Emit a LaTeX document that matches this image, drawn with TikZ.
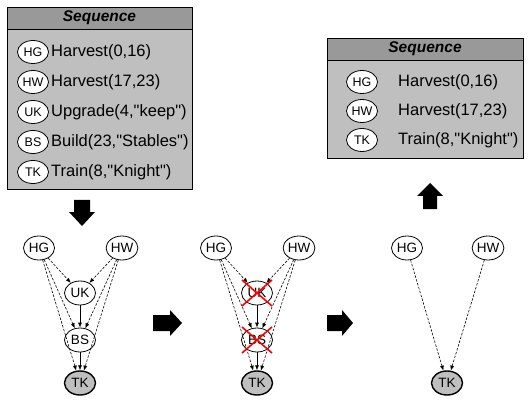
\documentclass[tikz,border=0pt]{standalone}
\usepackage{fontspec}
\setmainfont{Liberation Sans}[Ligatures=TeXOff]
\usetikzlibrary{shapes.geometric,arrows.meta,positioning}
\definecolor{boxgray}{gray}{0.75}
\definecolor{headgray}{gray}{0.6}
\tikzset{
  act/.style={ellipse,draw,line width=0.8pt,fill=white,minimum width=31pt,minimum height=24pt,inner sep=0pt,font=\fontsize{13.5}{13.5}\selectfont},
  goal/.style={act,fill=boxgray,line width=1.4pt},
  tag/.style={ellipse,draw,line width=0.8pt,fill=white,minimum width=31pt,minimum height=23pt,inner sep=0pt,font=\fontsize{12.5}{12.5}\selectfont},
  item/.style={anchor=west,inner sep=0pt,font=\fontsize{16.5}{17}\selectfont},
  head/.style={font=\fontsize{15.5}{16}\selectfont\bfseries\itshape},
  dep/.style={dash pattern=on 2.5pt off 1.5pt,line width=0.6pt,-{Latex[length=5pt,width=4pt]}},
  ord/.style={line width=0.6pt,-{Latex[length=5pt,width=4pt]}},
  cross/.style={red,line width=1.6pt},
}
\begin{document}
\begin{tikzpicture}[x=1pt,y=-1pt]
\useasboundingbox (0,0) rectangle (529,403);
% sequence before
\draw[fill=boxgray,line width=0.8pt] (7,7) rectangle (192,189);
\draw[fill=headgray,line width=0.8pt] (7,7) rectangle (192,29);
\node[head] (seqA) at (99.5,18) {Sequence};
\foreach \id/\txt [count=\i] in {HG/{Harvest(0,16)},HW/{Harvest(17,23)},UK/{Upgrade(4,"keep")},BS/{Build(23,"Stables")},TK/{Train(8,"Knight")}}
{
\node[tag] (a\id) at (33,22+30*\i) {\id};
\node[item] (at\id) at (51,22+30*\i) {\txt};
}
% sequence after
\draw[fill=boxgray,line width=0.8pt] (327,38) rectangle (523,158);
\draw[fill=headgray,line width=0.8pt] (327,38) rectangle (523,60);
\node[head] (seqB) at (425,49) {Sequence};
\foreach \id/\txt/\y in {HG/{Harvest(0,16)}/82,HW/{Harvest(17,23)}/111,TK/{Train(8,"Knight")}/140}
{
\node[tag] (b\id) at (362,\y) {\id};
\node[item] (bt\id) at (398,\y) {\txt};
}
% block arrows
\fill (74,200) -- (90,200) -- (90,212) -- (95,212) -- (82,226) -- (69,212) -- (74,212) -- cycle;
\fill (153,315) -- (170,315) -- (170,310) -- (182,323) -- (170,336) -- (170,331) -- (153,331) -- cycle;
\fill (327,315) -- (342,315) -- (342,310) -- (353,323) -- (342,336) -- (342,331) -- (327,331) -- cycle;
\fill (423,209) -- (437,209) -- (437,196) -- (443,196) -- (430,183) -- (417,196) -- (423,196) -- cycle;
% graph 1 and graph 2
\foreach \g/\x in {p/0,q/177}
{
\node[act] (\g HG) at (39+\x,248) {HG};
\node[act] (\g HW) at (122+\x,248) {HW};
\node[act] (\g UK) at (80+\x,293) {UK};
\node[act] (\g BS) at (80+\x,340) {BS};
\node[goal] (\g TK) at (80+\x,383) {TK};
\foreach \s in {HG,HW}
\foreach \t in {UK,BS,TK}
\draw[dep] (\g\s) -- (\g\t);
\draw[ord] (\g UK) -- (\g BS);
\draw[ord] (\g BS) -- (\g TK);
}
% removed actions
\foreach \n in {qUK,qBS}
{
\draw[cross] ([shift={(-15,-13)}]\n.center) -- ([shift={(15,13)}]\n.center);
\draw[cross] ([shift={(15,-13)}]\n.center) -- ([shift={(-15,13)}]\n.center);
}
% graph 3
\node[act] (rHG) at (407,248) {HG};
\node[act] (rHW) at (488,248) {HW};
\node[goal] (rTK) at (447,383) {TK};
\draw[dep] (rHG) -- (rTK);
\draw[dep] (rHW) -- (rTK);
\end{tikzpicture}
\end{document}
